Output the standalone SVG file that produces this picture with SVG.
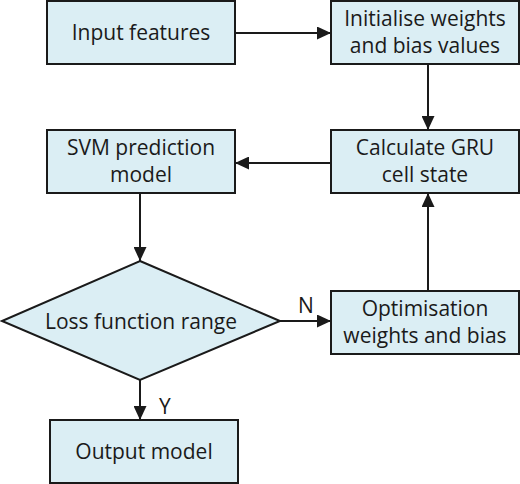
<svg xmlns="http://www.w3.org/2000/svg" width="520" height="484" viewBox="0 0 520 484">
<style>
.box{fill:#dbeef4;stroke:#1a1a1a;stroke-width:2}
.t{font-family:"Open Sans","Noto Sans",sans-serif;font-size:21px;fill:#1a1a1a;text-anchor:middle}
.lbl{font-family:"Open Sans","Noto Sans",sans-serif;font-size:21px;fill:#1a1a1a}
.c{fill:none;stroke:#1a1a1a;stroke-width:2}
</style>
<defs>
<marker id="a" viewBox="0 0 14 13" markerWidth="14" markerHeight="13" refX="14" refY="6.5" orient="auto" markerUnits="userSpaceOnUse">
<path d="M0,0 L14,6.5 L0,13 Z" fill="#1a1a1a"/>
</marker>
</defs>
<rect width="520" height="484" fill="#fff"/>
<g id="connectors">
<line class="c" x1="235" y1="33" x2="331" y2="33" marker-end="url(#a)"/>
<line class="c" x1="428" y1="64" x2="428" y2="130" marker-end="url(#a)"/>
<line class="c" x1="331" y1="163" x2="235" y2="163" marker-end="url(#a)"/>
<line class="c" x1="140" y1="193" x2="140" y2="261" marker-end="url(#a)"/>
<line class="c" x1="280" y1="321" x2="331" y2="321" marker-end="url(#a)"/>
<line class="c" x1="428" y1="291" x2="428" y2="193" marker-end="url(#a)"/>
<line class="c" x1="140" y1="380" x2="140" y2="420" marker-end="url(#a)"/>
<text class="lbl" x="298" y="313">N</text>
<text class="lbl" x="159" y="414">Y</text>
</g>
<g id="input">
<rect class="box" x="47" y="1" width="188" height="63"/>
<text class="t" x="141" y="40">Input features</text>
</g>
<g id="init">
<rect class="box" x="331" y="1" width="188" height="63"/>
<text class="t" x="425" y="26">Initialise weights</text>
<text class="t" x="425" y="53">and bias values</text>
</g>
<g id="svm">
<rect class="box" x="47" y="130" width="188" height="63"/>
<text class="t" x="141" y="155">SVM prediction</text>
<text class="t" x="141" y="182">model</text>
</g>
<g id="gru">
<rect class="box" x="331" y="130" width="188" height="63"/>
<text class="t" x="425" y="155">Calculate GRU</text>
<text class="t" x="425" y="182">cell state</text>
</g>
<g id="loss">
<polygon class="box" points="140,261 280,321 140,380 2,321"/>
<text class="t" x="141" y="329">Loss function range</text>
</g>
<g id="opt">
<rect class="box" x="331" y="291" width="188" height="63"/>
<text class="t" x="425" y="316">Optimisation</text>
<text class="t" x="425" y="343">weights and bias</text>
</g>
<g id="output">
<rect class="box" x="50" y="420" width="188" height="63"/>
<text class="t" x="144" y="459">Output model</text>
</g>
</svg>
